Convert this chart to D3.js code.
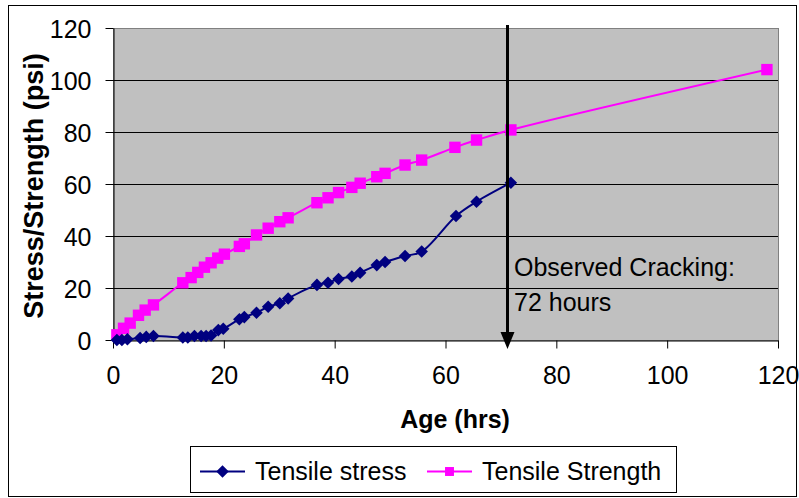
<!DOCTYPE html>
<html>
<head>
<meta charset="utf-8">
<script src="https://cdn.jsdelivr.net/npm/d3@7"></script>
<style>
  body { margin: 0; background: #fff; }
  svg text { font-family: "Liberation Sans", Arial, sans-serif; fill: #000; }
</style>
</head>
<body>
<div class="chart"></div>
<script>
// ages (hrs) and values (psi)
var stressAge = [0.7, 1.6, 2.6, 4.9, 6.0, 7.3, 12.6, 13.5, 14.7, 15.9, 16.8, 17.7, 19.0, 19.9, 22.8, 23.7, 25.9, 28.0, 30.1, 31.6, 36.8, 38.8, 40.7, 43.1, 44.6, 47.6, 49.1, 52.7, 55.7, 61.9, 65.6, 71.8];
var stress    = [0, 0, 0.3, 0.8, 1.2, 1.5, 1.0, 1.0, 1.5, 1.5, 1.5, 1.7, 3.8, 4.3, 8.0, 8.8, 10.5, 12.8, 14.1, 16.0, 21.2, 22.0, 23.5, 24.4, 25.9, 28.8, 30.0, 32.3, 34.0, 47.7, 53.2, 60.5];

var strengthAge = [0.7, 1.9, 3.1, 4.6, 5.8, 7.3, 12.6, 14.1, 15.3, 16.5, 17.7, 18.9, 20.1, 22.8, 23.7, 25.9, 28.0, 30.1, 31.6, 36.8, 38.8, 40.7, 43.1, 44.6, 47.6, 49.1, 52.7, 55.7, 61.7, 65.6, 71.8, 118];
var strength    = [2.0, 4.5, 6.5, 9.5, 11.5, 13.5, 22.0, 24.0, 26.0, 28.0, 29.7, 31.5, 33.0, 36.0, 37.0, 40.4, 43.0, 45.5, 47.0, 52.8, 54.7, 56.7, 58.7, 60.3, 62.8, 64.1, 67.3, 69.2, 74.1, 76.9, 80.8, 104.0];

var xTicks = [0, 20, 40, 60, 80, 100, 120];
var yTicks = [0, 20, 40, 60, 80, 100, 120];
var crackAge = 71.1;
var seriesNames = ['Tensile stress', 'Tensile Strength'];

var width = 799, height = 498;
// plot area box (note: "top" is reserved on window)
var pLeft = 113, pRight = 778, pTop = 28, pBottom = 340;

var svg = d3.select('.chart').append('svg')
    .attr('width', width)
    .attr('height', height);

// outer chart border
svg.append('rect')
    .attr('x', 8.5).attr('y', 5.5)
    .attr('width', 788).attr('height', 491)
    .attr('fill', '#fff')
    .attr('stroke', '#000');

var x = d3.scaleLinear().domain([0, 120]).range([pLeft, pRight]);
var y = d3.scaleLinear().domain([0, 120]).range([pBottom, pTop]);

// plot area
svg.append('rect')
    .attr('x', pLeft + 0.5).attr('y', pTop + 0.5)
    .attr('width', pRight - pLeft).attr('height', pBottom - pTop)
    .attr('fill', '#c0c0c0')
    .attr('stroke', '#808080');

// gridlines
svg.append('g')
    .selectAll('line')
    .data(yTicks.filter(function(d) { return d > 0 && d < 120; }))
    .enter().append('line')
    .attr('x1', pLeft).attr('x2', pRight)
    .attr('y1', function(d) { return Math.round(y(d)) + 0.5; })
    .attr('y2', function(d) { return Math.round(y(d)) + 0.5; })
    .attr('stroke', '#000');

// axes
var xAxis = svg.append('g')
    .attr('transform', 'translate(0,' + (pBottom + 0.5) + ')')
    .call(d3.axisBottom(x).tickValues(xTicks).tickSize(8).tickSizeOuter(0).tickPadding(18));
var yAxis = svg.append('g')
    .attr('transform', 'translate(' + (pLeft + 0.5) + ',0)')
    .call(d3.axisLeft(y).tickValues(yTicks).tickSize(8).tickSizeOuter(0).tickPadding(14));

[xAxis, yAxis].forEach(function(a) {
    a.select('.domain').attr('stroke', '#000');
    a.selectAll('.tick line').attr('stroke', '#000');
    a.selectAll('.tick text')
        .style('font-family', '"Liberation Sans", Arial, sans-serif')
        .style('font-size', '25px')
        .attr('fill', '#000');
});
yAxis.selectAll('.tick text').attr('dy', '0.36em');

// axis titles
svg.append('text')
    .attr('x', 455).attr('y', 428)
    .attr('text-anchor', 'middle')
    .style('font-size', '25px')
    .style('font-weight', 'bold')
    .text('Age (hrs)');

svg.append('text')
    .attr('transform', 'translate(43,186) rotate(-90)')
    .attr('text-anchor', 'middle')
    .style('font-size', '27px')
    .style('font-weight', 'bold')
    .text('Stress/Strength (psi)');

// lines
var stressPts = stressAge.map(function(a, i) { return [a, stress[i]]; });
var strengthPts = strengthAge.map(function(a, i) { return [a, strength[i]]; });

var line = d3.line()
    .x(function(d) { return x(d[0]); })
    .y(function(d) { return y(d[1]); })
    .curve(d3.curveCatmullRom);

svg.append('path')
    .attr('d', line(strengthPts))
    .attr('fill', 'none')
    .attr('stroke', '#ff00ff')
    .attr('stroke-width', 2);

svg.append('path')
    .attr('d', line(stressPts))
    .attr('fill', 'none')
    .attr('stroke', '#000080')
    .attr('stroke-width', 2);

// markers
var square = d3.symbol().type(d3.symbolSquare).size(130);
var diamond = d3.symbol().type(d3.symbolDiamond2).size(100);

svg.append('g').selectAll('path')
    .data(strengthPts)
    .enter().append('path')
    .attr('d', square)
    .attr('transform', function(d) { return 'translate(' + x(d[0]) + ',' + y(d[1]) + ')'; })
    .attr('fill', '#ff00ff');

svg.append('g').selectAll('path')
    .data(stressPts)
    .enter().append('path')
    .attr('d', diamond)
    .attr('transform', function(d) { return 'translate(' + x(d[0]) + ',' + y(d[1]) + ')'; })
    .attr('fill', '#000080');

// cracking arrow
var ax = Math.round(x(crackAge)) + 0.5;
svg.append('line')
    .attr('x1', ax).attr('x2', ax)
    .attr('y1', pTop - 3).attr('y2', pBottom - 6)
    .attr('stroke', '#000')
    .attr('stroke-width', 3);
svg.append('path')
    .attr('d', 'M' + (ax - 7) + ',' + (pBottom - 8) + 'L' + (ax + 7) + ',' + (pBottom - 8) + 'L' + ax + ',' + (pBottom + 9) + 'Z')
    .attr('fill', '#000');

svg.append('text')
    .attr('x', 514).attr('y', 276)
    .style('font-size', '25px')
    .text('Observed Cracking:');
svg.append('text')
    .attr('x', 514).attr('y', 311)
    .style('font-size', '25px')
    .text('72 hours');

// legend
var legend = svg.append('g');
legend.append('rect')
    .attr('x', 190.5).attr('y', 446.5)
    .attr('width', 486).attr('height', 46)
    .attr('fill', '#fff')
    .attr('stroke', '#000');

var legendItems = [
    { name: seriesNames[0], x0: 200, color: '#000080', sym: diamond },
    { name: seriesNames[1], x0: 427, color: '#ff00ff', sym: d3.symbol().type(d3.symbolSquare).size(80) }
];
legendItems.forEach(function(d) {
    legend.append('line')
        .attr('x1', d.x0).attr('x2', d.x0 + 45)
        .attr('y1', 471.5).attr('y2', 471.5)
        .attr('stroke', d.color)
        .attr('stroke-width', 2);
    legend.append('path')
        .attr('d', d.sym)
        .attr('transform', 'translate(' + (d.x0 + 22.5) + ',471.5)')
        .attr('fill', d.color);
    legend.append('text')
        .attr('x', d.x0 + 55).attr('y', 480)
        .style('font-size', '25px')
        .text(d.name);
});
</script>
</body>
</html>
